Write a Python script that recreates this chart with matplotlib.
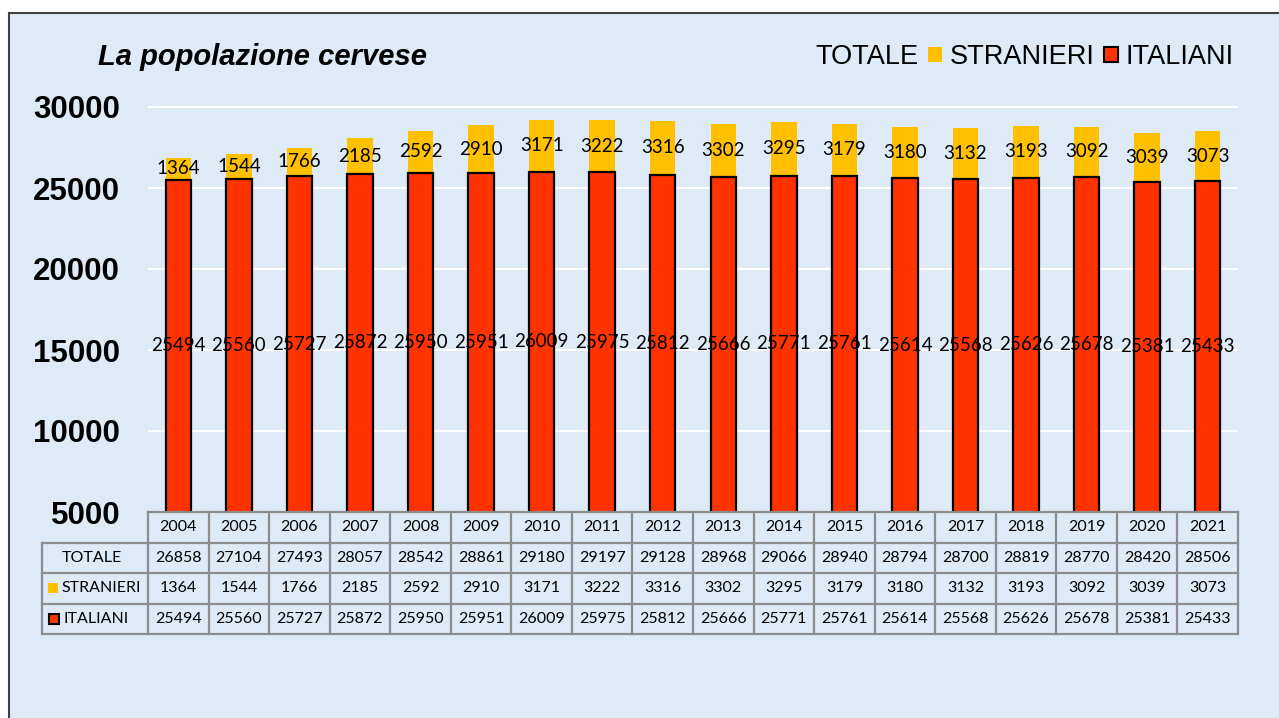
import matplotlib.pyplot as plt
from matplotlib.patches import Rectangle, Patch

anni = [str(a) for a in range(2004, 2022)]
totale = [26858, 27104, 27493, 28057, 28542, 28861, 29180, 29197, 29128,
          28968, 29066, 28940, 28794, 28700, 28819, 28770, 28420, 28506]
stranieri = [1364, 1544, 1766, 2185, 2592, 2910, 3171, 3222, 3316,
             3302, 3295, 3179, 3180, 3132, 3193, 3092, 3039, 3073]
italiani = [25494, 25560, 25727, 25872, 25950, 25951, 26009, 25975, 25812,
            25666, 25771, 25761, 25614, 25568, 25626, 25678, 25381, 25433]
yticks = [5000, 10000, 15000, 20000, 25000, 30000]

W, H = 1279, 718
bg = '#deeaf6'
rosso = '#ff3300'
giallo = '#ffc000'
griglia = '#8c8c8c'
tfont = ['Lato', 'DejaVu Sans']

fig = plt.figure(figsize=(W / 100, H / 100), dpi=100)
fig.patch.set_facecolor('white')

# sfondo azzurro con bordo
fig.patches.append(Rectangle((9 / W, -0.05), 1.1, (H - 13) / H + 0.05,
                             transform=fig.transFigure, facecolor=bg,
                             edgecolor='#404040', lw=1.5, zorder=-10))

def box(x0, y0, x1, y1):
    # pixel (dall'alto) -> frazioni figura
    return [x0 / W, 1 - y1 / H, (x1 - x0) / W, (y1 - y0) / H]

ymin, ymax = 5000, 31000
px_unit = 81 / 5000
ax = fig.add_axes(box(148, 512 - (ymax - ymin) * px_unit, 1238, 512))
ax.set_facecolor('none')
x = list(range(len(anni)))
ax.bar(x, italiani, width=0.42, color=rosso, edgecolor='black', lw=1.6, zorder=3)
ax.bar(x, stranieri, bottom=italiani, width=0.42, color=giallo, lw=0, zorder=2)
ax.set_xlim(-0.5, len(anni) - 0.5)
ax.set_ylim(ymin, ymax)
ax.set_yticks(yticks)
ax.set_yticklabels([str(v) for v in yticks], fontsize=22.5, fontweight='bold',
                   family='Liberation Sans')
ax.tick_params(axis='y', length=0, pad=20)
ax.set_xticks([])
for s in ax.spines.values():
    s.set_visible(False)
for v in yticks[1:]:
    ax.axhline(v, color='white', lw=1.5, zorder=1)

for i in x:
    ax.text(i, (ymin + italiani[i]) / 2, str(italiani[i]), ha='center', va='center',
            fontsize=13.5, family=tfont, zorder=5)
    ax.text(i, italiani[i] + stranieri[i] / 2, str(stranieri[i]), ha='center',
            va='center', fontsize=13.5, family=tfont, zorder=5)

fig.text(98 / W, 1 - 57 / H, 'La popolazione cervese', fontsize=21,
         fontweight='bold', style='italic', family='Liberation Sans', va='center')

handles = [Patch(facecolor='none', edgecolor='none'),
           Patch(facecolor=giallo, edgecolor='none'),
           Patch(facecolor=rosso, edgecolor='black', lw=1.5)]
leg = fig.legend(handles, ['TOTALE', 'STRANIERI', 'ITALIANI'], ncol=3,
                 loc='center right', bbox_to_anchor=(1234 / W, 1 - 57 / H),
                 frameon=False, prop={'family': 'Liberation Sans', 'size': 19.5},
                 handlelength=0.5, handleheight=0.5, handletextpad=0.3,
                 columnspacing=0.35, borderpad=0, borderaxespad=0)

# tabella dati
tab = fig.add_axes(box(42, 512, 1238, 634))
tab.set_facecolor('none')
tab.set_xlim(-0.5 - 106 / (1090 / 18), len(anni) - 0.5)
tab.set_ylim(4, 0)
tab.axis('off')
xl = -0.5 - 106 / (1090 / 18)
xr = len(anni) - 0.5
tab.plot([-0.5, xr], [0, 0], color=griglia, lw=1.6, clip_on=False)
for r in range(1, 5):
    tab.plot([xl, xr], [r, r], color=griglia, lw=1.6, clip_on=False)
for c in range(len(anni) + 1):
    tab.plot([c - 0.5, c - 0.5], [0, 4], color=griglia, lw=1.6, clip_on=False)
tab.plot([xl, xl], [1, 4], color=griglia, lw=1.6, clip_on=False)

for i, a in enumerate(anni):
    for r, val in enumerate([a, totale[i], stranieri[i], italiani[i]]):
        tab.text(i, r + 0.5, str(val), ha='center', va='center', fontsize=11.5,
                 family=tfont)

tab.text((xl - 0.5) / 2 - 0.05, 1.5, 'TOTALE', ha='center', va='center',
         fontsize=11.5, family=tfont)
tab.text(xl + 0.33, 2.5, 'STRANIERI', ha='left', va='center', fontsize=11.5,
         family=tfont)
tab.text(xl + 0.35, 3.5, 'ITALIANI', ha='left', va='center', fontsize=11.5,
         family=tfont)
cw = 1090 / 18
tab.add_patch(Rectangle((xl + 6 / cw, 2.33), 10 / cw, 0.34, facecolor=giallo,
                        edgecolor='none', clip_on=False))
tab.add_patch(Rectangle((xl + 7 / cw, 3.33), 10 / cw, 0.34, facecolor=rosso,
                        edgecolor='black', lw=1.5, clip_on=False))

fig.savefig('out.png', dpi=100)
